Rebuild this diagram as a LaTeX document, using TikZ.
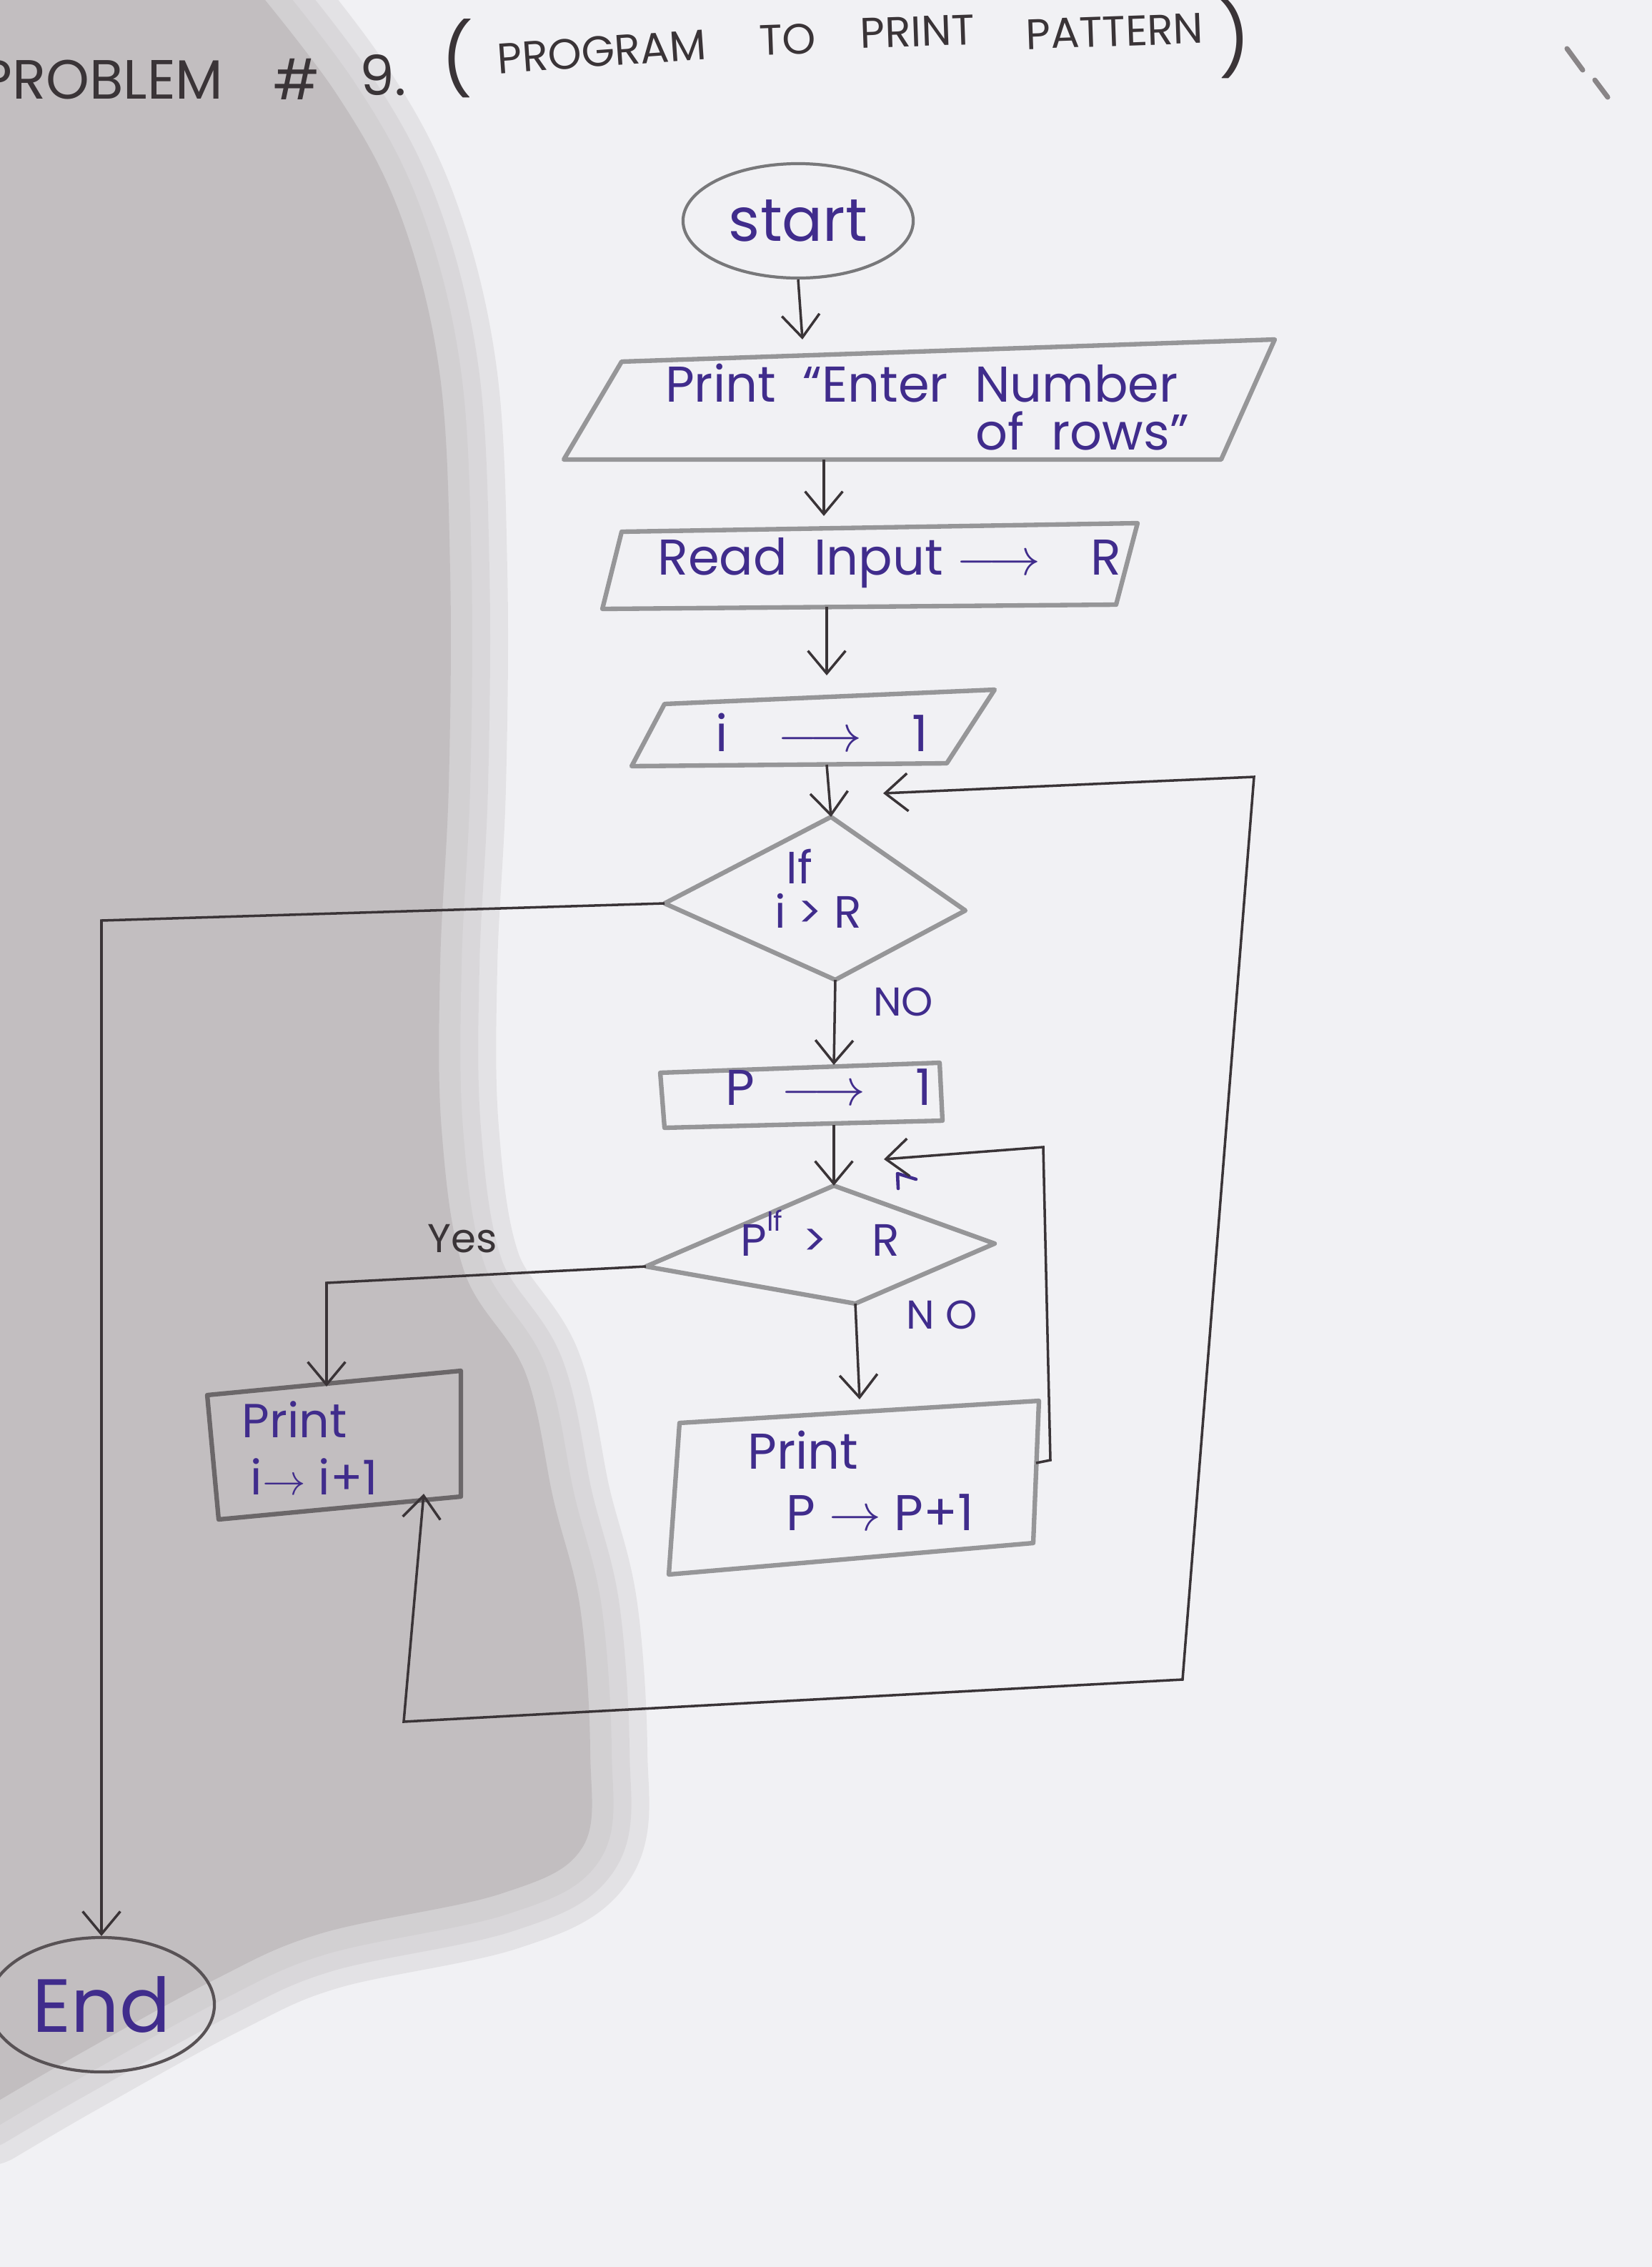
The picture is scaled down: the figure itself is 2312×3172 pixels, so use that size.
\documentclass[tikz,border=0pt]{standalone}
\usepackage{fontspec}
\setmainfont{Poppins}
\usetikzlibrary{arrows.meta,shapes.geometric}

\definecolor{paper}{RGB}{241,241,244}
\definecolor{shadowgray}{RGB}{194,190,192}
\definecolor{pencil}{RGB}{150,150,152}
\definecolor{ink}{RGB}{64,44,140}
\definecolor{lead}{RGB}{58,52,55}

\newcommand{\fs}[1]{\fontsize{#1}{#1}\selectfont}

\begin{document}
\begin{tikzpicture}[x=0.01cm,y=-0.01cm,
  outline/.style={draw=pencil,line width=1.8pt,line join=round},
  oval/.style={ellipse,line width=1.2pt,text=ink,inner sep=0pt},
  wire/.style={draw=lead,line width=1pt},
  flow/.style={wire,-{Straight Barb[length=9pt,width=15pt]}},
  twoway/.style={wire,{Straight Barb[length=9pt,width=15pt]}-{Straight Barb[length=9pt,width=15pt]}},
  txt/.style={text=ink,font=\fs{20},inner sep=0pt},
  small/.style={text=ink,font=\fs{16},inner sep=0pt},
  head/.style={text=lead,inner sep=0pt}
]
% paper and the shadow lying across its left half
\useasboundingbox (0,0) rectangle (2312,3172);
\fill[paper] (0,0) rectangle (2312,3172);
\foreach \w in {1.6cm,1.1cm,0.6cm}{
  \filldraw[shadowgray,line width=\w,line join=round,fill opacity=0,draw opacity=0.28]
    plot[smooth,tension=0.6] coordinates {(330,-50) (470,130) (560,300) (615,520) (630,800)
      (628,1100) (616,1350) (618,1580) (650,1780) (735,1920) (775,2100) (812,2250)
      (826,2450) (815,2585) (700,2650) (450,2705) (300,2770) (100,2880) (-20,2950)}
    -- (-300,2950) -- (-300,-300) -- cycle;
}
\fill[shadowgray]
    plot[smooth,tension=0.6] coordinates {(330,-50) (470,130) (560,300) (615,520) (630,800)
      (628,1100) (616,1350) (618,1580) (650,1780) (735,1920) (775,2100) (812,2250)
      (826,2450) (815,2585) (700,2650) (450,2705) (300,2770) (100,2880) (-20,2950)}
    -- (-300,2950) -- (-300,-300) -- cycle;

% heading
\node[head,font=\fs{22},anchor=west] (t1) at (-28,111) {PROBLEM};
\node[head,font=\fs{22}] (t2) at (415,111) {\#};
\node[head,font=\fs{22}] (t3) at (536,105) {9.};
\node[head,font=\fs{28}] (t4) at (640,82) {(};
\node[head,font=\fs{17},rotate=4] (t5) at (842,72) {PROGRAM};
\node[head,font=\fs{17},rotate=2] (t6) at (1102,55) {TO};
\node[head,font=\fs{17},rotate=2] (t7) at (1284,44) {PRINT};
\node[head,font=\fs{17},rotate=2] (t8) at (1560,44) {PATTERN};
\node[head,font=\fs{28}] (t9) at (1728,55) {)};
\draw[lead!60,line width=2pt,line cap=round] (2193,68) -- (2215,98) (2232,112) -- (2250,136);

% terminals
\node[oval,draw=pencil!80!black,minimum width=3.22cm,minimum height=1.6cm,font=\fs{24}] (start) at (1117,309) {start};
\node[oval,draw=lead!85,minimum width=3.16cm,minimum height=1.88cm,font=\fs{30}] (end) at (142,2805) {End};

% print prompt
\coordinate (p1a) at (870,506); \coordinate (p1b) at (1784,475);
\coordinate (p1c) at (1709,643); \coordinate (p1d) at (789,643);
\draw[outline] (p1a) -- (p1b) -- (p1c) -- (p1d) -- cycle;
\node[txt] (msg1) at (1290,536) {Print \ “Enter \ Number};
\node[txt] (msg2) at (1515,603) {of \ rows”};

% read R
\coordinate (p2a) at (870,744); \coordinate (p2b) at (1592,732);
\coordinate (p2c) at (1562,846); \coordinate (p2d) at (843,852);
\draw[outline] (p2a) -- (p2b) -- (p2c) -- (p2d) -- cycle;
\node[txt] (rd) at (1245,788) {Read \ Input $\longrightarrow$\quad R};

% i = 1
\coordinate (p3a) at (930,985); \coordinate (p3b) at (1392,965);
\coordinate (p3c) at (1325,1068); \coordinate (p3d) at (884,1072);
\draw[outline] (p3a) -- (p3b) -- (p3c) -- (p3d) -- cycle;
\node[txt] (iset) at (1150,1025) {i\quad $\longrightarrow$\quad 1};

% test i > R
\coordinate (d1t) at (1163,1143); \coordinate (d1l) at (930,1264);
\coordinate (d1r) at (1351,1274); \coordinate (d1b) at (1169,1371);
\draw[outline] (d1t) -- (d1r) -- (d1b) -- (d1l) -- cycle;
\node[txt,font=\fs{18}] (if1) at (1119,1212) {If};
\node[txt,font=\fs{18}] (cmp1) at (1145,1274) {i > R};
\node[small] (no1) at (1264,1402) {NO};

% p = 1
\coordinate (pa) at (924,1501); \coordinate (pb) at (1315,1487);
\coordinate (pc) at (1319,1568); \coordinate (pd) at (930,1578);
\draw[outline] (pa) -- (pb) -- (pc) -- (pd) -- cycle;
\node[txt] (pset) at (1160,1521) {P \ $\longrightarrow$\quad 1};

% test p > R
\coordinate (d2t) at (1167,1659); \coordinate (d2l) at (904,1772);
\coordinate (d2r) at (1392,1740); \coordinate (d2b) at (1197,1824);
\draw[outline] (d2t) -- (d2r) -- (d2b) -- (d2l) -- cycle;
\node[txt,font=\fs{18},anchor=west] (cmp2) at (1036,1725) {P\raisebox{0.55em}{\fs{11}If}\, >\quad R};
\node[small] (no2) at (1318,1840) {N O};
\node[head,font=\fs{16}] (yes) at (647,1733) {Yes};
\draw[ink,line width=1.3pt,line cap=round,line join=round] (1257,1663) -- (1256,1642) -- (1282,1650);

% print, i = i+1
\coordinate (ia) at (290,1952); \coordinate (ib) at (645,1918);
\coordinate (ic) at (645,2094); \coordinate (id) at (306,2126);
\draw[outline,draw=lead!75] (ia) -- (ib) -- (ic) -- (id) -- cycle;
\node[txt,font=\fs{19},anchor=west] (ipr) at (338,1986) {Print};
\node[txt,font=\fs{19},anchor=west] (iinc) at (350,2066) {i$\rightarrow$ i+1};

% print, p = p+1
\coordinate (qa) at (951,1991); \coordinate (qb) at (1454,1960);
\coordinate (qc) at (1446,2159); \coordinate (qd) at (936,2203);
\draw[outline] (qa) -- (qb) -- (qc) -- (qd) -- cycle;
\node[txt,anchor=west] (qpr) at (1046,2029) {Print};
\node[txt,anchor=west] (qinc) at (1100,2116) {P $\rightarrow$ P+1};

% connector bends
\coordinate (a1) at (1123,475);
\coordinate (a2s) at (1153,643); \coordinate (a2) at (1153,722);
\coordinate (a3s) at (1157,849); \coordinate (a3) at (1157,945);
\coordinate (a4s) at (1157,1070);
\coordinate (a5) at (1167,1490);
\coordinate (a6s) at (1167,1574);
\coordinate (a7) at (1203,1958);
\coordinate (l1) at (142,1288);
\coordinate (y1) at (457,1795); \coordinate (y2) at (457,1940);
\coordinate (o0) at (593,2090); \coordinate (o1) at (565,2409);
\coordinate (o2) at (1655,2350); \coordinate (o3) at (1755,1087);
\coordinate (o4) at (1236,1110);
\coordinate (n0) at (1450,2047); \coordinate (n1) at (1470,2043);
\coordinate (n2) at (1460,1605); \coordinate (n3) at (1237,1622);

% connectors
\draw[flow] (start.south) -- (a1);
\draw[flow] (a2s) -- (a2);
\draw[flow] (a3s) -- (a3);
\draw[flow] (a4s) -- (d1t);
\draw[flow] (d1b) -- (a5);
\draw[flow] (a6s) -- (d2t);
\draw[flow] (d2b) -- (a7);
\draw[flow] (d1l) -- (l1) -- (end.north);
\draw[flow] (d2l) -- (y1) -- (y2);
\draw[twoway] (o0) -- (o1) -- (o2) -- (o3) -- (o4);
\draw[flow] (n0) -- (n1) -- (n2) -- (n3);
\end{tikzpicture}
\end{document}
